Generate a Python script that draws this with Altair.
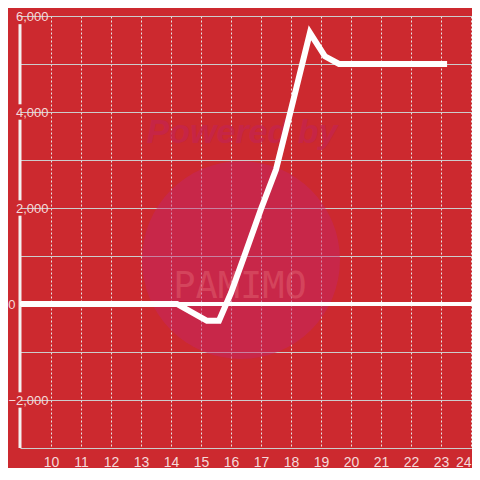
import altair as alt
import pandas as pd

# data
hours = [9.0, 14.2, 15.2, 15.6, 16.0, 16.5, 17.0, 17.5, 18.0, 18.63, 19.13, 19.6, 23.2]
values = [0, 0, -350, -350, 230, 1100, 1980, 2800, 4050, 5650, 5160, 5000, 5000]
x_ticks = list(range(10, 25))
y_ticks = list(range(-3000, 6001, 1000))
zero_line = [0]
x_domain = [8.97, 24.03]
y_domain = [-3000, 6000]
# y-axis line pieces (broken behind the labels, as in the reference)
axis_from = [4160, 2160, -1840, -3000]
axis_to = [5830, 3840, 1840, -2160]

BG = "#cc292f"
LABEL = "#f5dada"

df = pd.DataFrame({"h": hours, "v": values})

x_scale = alt.Scale(domain=x_domain, nice=False, zero=False)
y_scale = alt.Scale(domain=y_domain, nice=False)

x_axis = alt.Axis(
    values=x_ticks, title=None, grid=True, gridColor="#e6e6e6", gridDash=[2, 2],
    gridWidth=1, ticks=False, domain=False, labelColor=LABEL, labelFontSize=14,
    labelFont="Liberation Sans", labelPadding=7, labelFlush=3,
)
y_axis = alt.Axis(
    values=y_ticks, title=None, grid=True, gridColor="#cccccc", gridWidth=1,
    ticks=False, domain=False,
    labelExpr="datum.value % 2000 == 0 ? format(datum.value, ',') : ''",
    labelColor=LABEL, labelFontSize=13, labelFont="Liberation Sans",
    labelAlign="right", labelBaseline="middle",
    labelPadding={"condition": {"test": "datum.value == 0", "value": 5}, "value": -28},
    labelFlush=False,
)

watermark = alt.Chart(pd.DataFrame({"a": [0]})).mark_circle(
    color="#c3266a", opacity=0.45, size=39200
).encode(x=alt.value(221), y=alt.value(244))

wm_text1 = alt.Chart(pd.DataFrame({"t": ["Powered by"]})).mark_text(
    font="Liberation Sans", fontSize=34, fontWeight="bold", fontStyle="italic",
    color="#c4244e", opacity=0.75
).encode(x=alt.value(222), y=alt.value(117), text="t:N")

wm_text2 = alt.Chart(pd.DataFrame({"t": ["PAMIMO"]})).mark_text(
    font="DejaVu Sans Mono", fontSize=37, color="#e8707a", opacity=0.4
).encode(x=alt.value(220), y=alt.value(271), text="t:N")

axis_df = pd.DataFrame({"x": [x_domain[0]] * len(axis_from), "a": axis_from, "b": axis_to})
axis_line = alt.Chart(axis_df).mark_rule(color="#f4f0f0", strokeWidth=3).encode(
    x=alt.X("x:Q", scale=x_scale, axis=x_axis),
    y=alt.Y("a:Q", scale=y_scale, axis=y_axis),
    y2="b:Q",
)

line = alt.Chart(df).mark_line(color="white", strokeWidth=6, strokeCap="butt").encode(
    x=alt.X("h:Q", scale=x_scale, axis=x_axis),
    y=alt.Y("v:Q", scale=y_scale, axis=y_axis),
)

zero = alt.Chart(pd.DataFrame({"z": zero_line})).mark_rule(
    color="white", strokeWidth=4
).encode(y=alt.Y("z:Q", scale=y_scale, axis=y_axis))

chart = alt.layer(watermark, wm_text1, wm_text2, axis_line, zero, line).properties(
    width=452, height=432, background=BG,
    padding={"left": 12, "top": 8, "right": 0, "bottom": 20},
    autosize=alt.AutoSizeParams(type="none"),
).configure_view(stroke=None)

chart.save("out.html", embed_options={"renderer": "svg", "actions": False})
